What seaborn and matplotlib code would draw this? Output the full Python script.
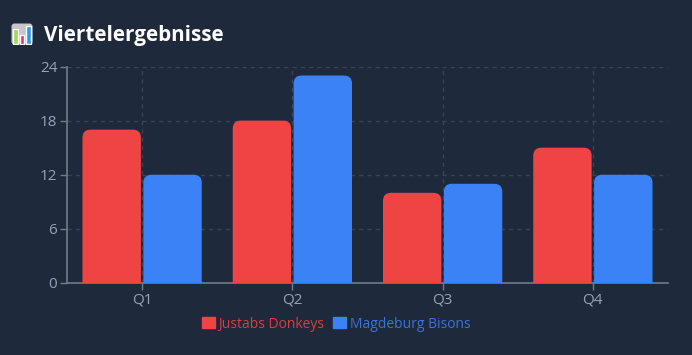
import matplotlib
matplotlib.use('Agg')
import matplotlib.pyplot as plt
import pandas as pd
import seaborn as sns
from matplotlib.patches import FancyBboxPatch, PathPatch, Rectangle
from matplotlib.path import Path
from matplotlib.transforms import IdentityTransform

quarters = ['Q1', 'Q2', 'Q3', 'Q4']
donkeys = [17, 18, 10, 15]
bisons = [12, 23, 11, 12]
teams = ['Justabs Donkeys', 'Magdeburg Bisons']
y_ticks = [0, 6, 12, 18, 24]

BG = '#1e293b'
RED = '#ef4444'
BLUE = '#3b82f6'
W, H = 692, 355

df = pd.DataFrame({
    'quarter': quarters * 2,
    'team': [teams[0]] * 4 + [teams[1]] * 4,
    'points': donkeys + bisons,
})

sns.set_theme(style='dark')
plt.rcParams['font.family'] = ['Open Sans', 'DejaVu Sans']

fig = plt.figure(figsize=(W / 100, H / 100), dpi=100, facecolor=BG)
ax = fig.add_axes([67 / W, 1 - 283 / H, 601 / W, 216.5 / H], facecolor=BG)

sns.barplot(data=df, x='quarter', y='points', hue='team', palette=[RED, BLUE], saturation=1,
            width=0.81, gap=0.04, legend=False, ax=ax, zorder=3)
ax.set_xlim(-0.5, 3.5)
ax.set_ylim(0, 24)
ax.set_yticks(y_ticks)
ax.set_xlabel('')
ax.set_ylabel('')

ax.grid(True, color='#35445a', linestyle=(0, (3, 3)), linewidth=1)
ax.set_axisbelow(True)
for side in ['top', 'right']:
    ax.spines[side].set_visible(False)
for side in ['left', 'bottom']:
    ax.spines[side].set_color('#717b8a')
    ax.spines[side].set_linewidth(1.2)
ax.tick_params(axis='both', length=5, width=1, color='#717b8a', labelcolor='#94a3b8',
               labelsize=11, pad=2, left=True, bottom=True)

# swap the square bars for ones with rounded tops, radius in pixels
fig.canvas.draw()
r = 8
bars = [b for b in ax.patches if isinstance(b, Rectangle)]
for b in bars:
    x0, y0 = ax.transData.transform((b.get_x(), 0))
    x1, y1 = ax.transData.transform((b.get_x() + b.get_width(), b.get_height()))
    verts = [(x0, y0), (x0, y1 - r), (x0, y1), (x0 + r, y1), (x1 - r, y1), (x1, y1),
             (x1, y1 - r), (x1, y0), (x0, y0)]
    codes = [Path.MOVETO, Path.LINETO, Path.CURVE3, Path.CURVE3, Path.LINETO,
             Path.CURVE3, Path.CURVE3, Path.LINETO, Path.CLOSEPOLY]
    ax.add_patch(PathPatch(Path(verts, codes), transform=IdentityTransform(),
                           facecolor=b.get_facecolor(), edgecolor='none', zorder=3))
    b.set_visible(False)

# title and bar chart icon
fig.text(44 / W, 1 - 35.5 / H, 'Viertelergebnisse', color='white', fontsize=14.9,
         fontweight='bold', va='center', ha='left')
icon = fig.add_axes([11 / W, 1 - 45 / H, 22 / W, 22 / H])
icon.set_xlim(0, 22)
icon.set_ylim(0, 22)
icon.axis('off')
icon.add_patch(FancyBboxPatch((0.5, 0.5), 21, 21, boxstyle='round,pad=0,rounding_size=3',
                              facecolor='#c9c5cc', edgecolor='none'))
icon.bar([4.5, 11, 17.5], [15, 9, 18], width=4.4, bottom=1,
         color=['#a3d65c', '#e6306f', '#2f9be8'])

# legend
handles = [Rectangle((0, 0), 1, 1, color=RED), Rectangle((0, 0), 1, 1, color=BLUE)]
fig.legend(handles, teams, loc='center', bbox_to_anchor=(336 / W, 1 - 324 / H), ncol=2,
           frameon=False, fontsize=10, labelcolor=['#dc3c3e', '#3a74d8'],
           handlelength=0.95, handleheight=0.8, handletextpad=0.25, columnspacing=0.6)

fig.savefig('out.png', dpi=100, facecolor=BG)
